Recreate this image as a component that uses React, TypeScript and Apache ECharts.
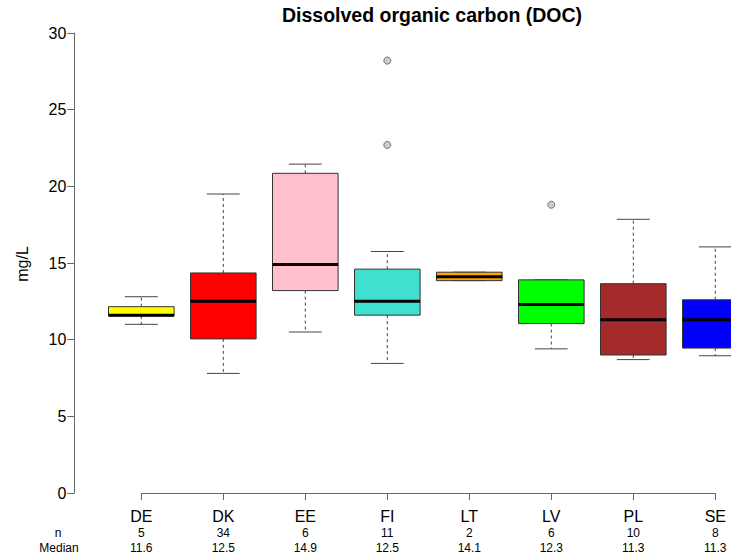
import React, { useEffect, useRef } from "react";
import * as echarts from "echarts";

const categories = ["DE", "DK", "EE", "FI", "LT", "LV", "PL", "SE"];
const counts = [5, 34, 6, 11, 2, 6, 10, 8];
// [min whisker, Q1, median, Q3, max whisker]
const boxStats = [
  [11.0, 11.55, 11.6, 12.15, 12.8],
  [7.8, 10.05, 12.5, 14.35, 19.5],
  [10.5, 13.2, 14.9, 20.85, 21.45],
  [8.45, 11.6, 12.5, 14.6, 15.75],
  [13.85, 13.85, 14.1, 14.4, 14.4],
  [9.4, 11.05, 12.3, 13.9, 13.9],
  [8.7, 9.0, 11.3, 13.65, 17.85],
  [8.95, 9.45, 11.3, 12.6, 16.05],
];
const boxColors = ["#FFFF00", "#FF0000", "#FFC0CB", "#40E0D0", "#FFA500", "#00FF00", "#A52A2A", "#0000FF"];
const outliers = [
  [4, 22.7],
  [4, 28.2],
  [6, 18.8],
];
const yTicks = [0, 5, 10, 15, 20, 25, 30];

const FONT = "'Liberation Sans', Arial, Helvetica, sans-serif";

export default function App() {
  const ref = useRef<HTMLDivElement>(null);
  useEffect(() => {
    document.body.style.margin = "0";
    if (!ref.current) return;
    const chart = echarts.init(ref.current, undefined, { renderer: "svg" });
    const boxData = boxStats.map((s, i) => [i + 1, ...s]);
    const option: any = {
      animation: false,
      backgroundColor: "#ffffff",
      title: {
        text: "Dissolved organic carbon (DOC)",
        left: 432,
        textAlign: "center",
        top: 5,
        padding: 0,
        textStyle: { fontFamily: FONT, fontSize: 19.5, fontWeight: "bold", color: "#000" },
      },
      grid: { left: 141.3, right: 15.7, top: 33, bottom: 62 },
      xAxis: {
        type: "value",
        min: 1,
        max: 8,
        interval: 1,
        splitLine: { show: false },
        axisLine: { show: true, lineStyle: { color: "#666", width: 1 } },
        axisTick: { show: true, length: 7, lineStyle: { color: "#666" } },
        axisLabel: {
          margin: 15,
          formatter: (v: number) => {
            const i = Math.round(v) - 1;
            return `{a|${categories[i]}}\n{b|${counts[i]}}\n{b|${boxStats[i][2].toFixed(1)}}`;
          },
          rich: {
            a: { fontFamily: FONT, fontSize: 16, color: "#000", lineHeight: 17 },
            b: { fontFamily: FONT, fontSize: 12, color: "#000", lineHeight: 15 },
          },
        },
      },
      yAxis: {
        type: "value",
        min: yTicks[0],
        max: yTicks[yTicks.length - 1],
        interval: 5,
        offset: 67,
        splitLine: { show: false },
        axisLine: { show: true, lineStyle: { color: "#666", width: 1 } },
        axisTick: { show: true, length: 7, lineStyle: { color: "#666" } },
        axisLabel: { margin: 8, fontFamily: FONT, fontSize: 16, color: "#000" },
      },
      graphic: [
        {
          type: "text",
          x: 22,
          y: 264,
          rotation: Math.PI / 2,
          style: { text: "mg/L", fontFamily: FONT, fontSize: 16, fill: "#000", align: "center", verticalAlign: "middle" },
        },
        {
          type: "text",
          x: 58,
          y: 533,
          style: { text: "n", fontFamily: FONT, fontSize: 12, fill: "#000", align: "center", verticalAlign: "middle" },
        },
        {
          type: "text",
          x: 59,
          y: 548,
          style: { text: "Median", fontFamily: FONT, fontSize: 12, fill: "#000", align: "center", verticalAlign: "middle" },
        },
      ],
      series: [
        {
          type: "custom",
          clip: false,
          data: boxData,
          renderItem: (params: any, api: any) => {
            const x = api.value(0);
            const lo = api.value(1), q1 = api.value(2), med = api.value(3), q3 = api.value(4), hi = api.value(5);
            const pLo = api.coord([x, lo]);
            const pQ1 = api.coord([x, q1]);
            const pMed = api.coord([x, med]);
            const pQ3 = api.coord([x, q3]);
            const pHi = api.coord([x, hi]);
            const bw = api.size([0.8, 0])[0];
            const cw = bw / 2;
            const cx = pMed[0];
            const color = boxColors[params.dataIndex];
            const whisk = { stroke: "#444", lineWidth: 1, lineDash: [3, 3] };
            const cap = { stroke: "#444", lineWidth: 1 };
            return {
              type: "group",
              children: [
                { type: "line", shape: { x1: cx, y1: pQ3[1], x2: cx, y2: pHi[1] }, style: whisk },
                { type: "line", shape: { x1: cx, y1: pQ1[1], x2: cx, y2: pLo[1] }, style: whisk },
                { type: "line", shape: { x1: cx - cw / 2, y1: pHi[1], x2: cx + cw / 2, y2: pHi[1] }, style: cap },
                { type: "line", shape: { x1: cx - cw / 2, y1: pLo[1], x2: cx + cw / 2, y2: pLo[1] }, style: cap },
                {
                  type: "rect",
                  shape: { x: cx - bw / 2, y: pQ3[1], width: bw, height: pQ1[1] - pQ3[1] },
                  style: { fill: color, stroke: "#333", lineWidth: 1 },
                },
                {
                  type: "line",
                  shape: { x1: cx - bw / 2, y1: pMed[1], x2: cx + bw / 2, y2: pMed[1] },
                  style: { stroke: "#000", lineWidth: 3 },
                },
              ],
            };
          },
        },
        {
          type: "scatter",
          data: outliers,
          symbol: "circle",
          symbolSize: 7,
          itemStyle: { color: "#c0c0c0", borderColor: "#555", borderWidth: 1 },
        },
      ],
    };
    chart.setOption(option);
    return () => chart.dispose();
  }, []);
  return <div ref={ref} style={{ width: 731, height: 555 }} />;
}
